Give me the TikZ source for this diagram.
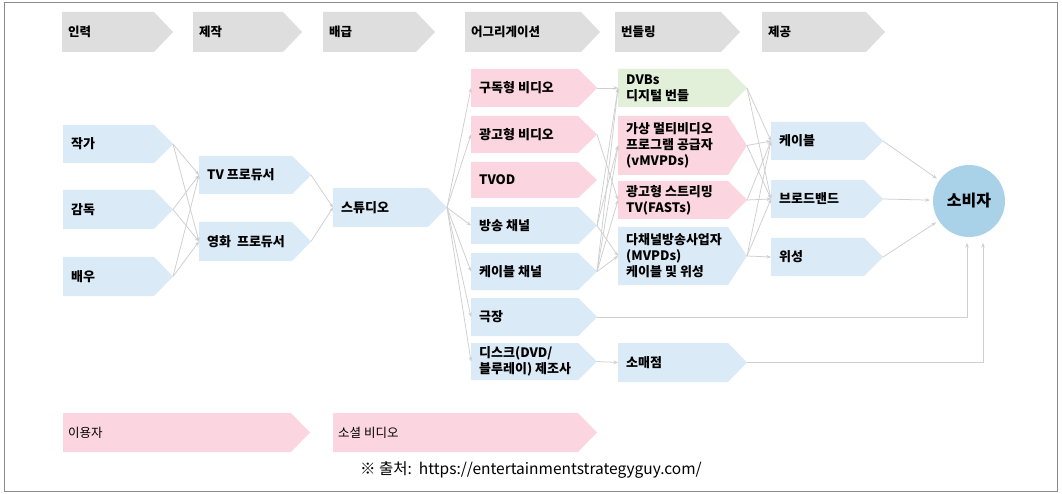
\documentclass[tikz,border=0pt]{standalone}
\usepackage{fontspec}
\setmainfont{Noto Sans CJK KR}
\usetikzlibrary{arrows.meta}
\definecolor{hdr}{HTML}{DEDEDE}
\definecolor{bl}{HTML}{DAEAF6}
\definecolor{pk}{HTML}{FBD5E0}
\definecolor{gr}{HTML}{E2EFD9}
\definecolor{cons}{HTML}{A9D1E8}
\definecolor{ag}{HTML}{CFCFCF}
\definecolor{fr}{HTML}{8A8A8A}
\newcommand\chev[8]{%
  \fill[#6] (#2,#3) -- ({#4-19},#3) -- (#4,{(#3+#5)/2}) -- ({#4-19},#5) -- (#2,#5) -- cycle;
  \node[lbl, anchor=west] (#1) at ({#2+#8},{(#3+#5)/2}) {#7};
  \coordinate (#1-o) at (#4,{(#3+#5)/2});
  \coordinate (#1-i) at (#2,{(#3+#5)/2});
}
\begin{document}
\begin{tikzpicture}[x=1pt,y=-1pt,
  lbl/.style={inner sep=0pt, align=left, font=\fontsize{13}{16}\selectfont\bfseries},
  conn/.style={draw=ag, line width=0.75pt, -{Stealth[length=4.5pt,width=3.5pt]}}]
\useasboundingbox (0,0) rectangle (1062,494);
\fill[white] (0,0) rectangle (1062,494);
\draw[fr, line width=1pt] (4,3) rectangle (1057,491);
% header
\begin{scope}[lbl/.style={inner sep=0pt, font=\fontsize{12.5}{14}\selectfont\bfseries}]
\chev{h1}{62}{12}{173}{52}{hdr}{인력}{6}
\chev{h2}{193}{12}{302}{52}{hdr}{제작}{6}
\chev{h3}{323}{12}{435}{52}{hdr}{배급}{6}
\chev{h4}{465}{12}{600}{52}{hdr}{어그리게이션}{6}
\chev{h5}{615}{12}{740}{52}{hdr}{번들링}{6}
\chev{h6}{762}{12}{885}{52}{hdr}{제공}{6}
\end{scope}
% talent
\chev{wr}{63}{125}{173}{163}{bl}{작가}{8}
\chev{di}{63}{190}{173}{229}{bl}{감독}{8}
\chev{ac}{63}{257}{173}{296}{bl}{배우}{8}
% producers
\chev{tv}{199}{156}{311}{194}{bl}{TV 프로듀서}{8}
\chev{fm}{199}{222}{311}{261}{bl}{영화\ \ 프로듀서}{8}
% studio
\chev{st}{333}{188}{447}{227}{bl}{스튜디오}{8}
% aggregation
\chev{sub}{471}{69}{597}{107}{pk}{구독형 비디오}{8}
\chev{adv}{471}{116}{597}{153}{pk}{광고형 비디오}{8}
\chev{tvod}{471}{162}{597}{198}{pk}{TVOD}{8}
\chev{bc}{471}{207}{597}{244}{bl}{방송 채널}{8}
\chev{cc}{471}{253}{597}{290}{bl}{케이블 채널}{8}
\chev{th}{471}{298}{597}{336}{bl}{극장}{8}
\chev{disc}{471}{343}{597}{380}{bl}{디스크(DVD/\\블루레이) 제조사}{8}
% bundling
\chev{dvb}{618}{69}{747}{107}{gr}{DVBs\\디지털 번들}{8}
\chev{vm}{618}{116}{747}{175}{pk}{가상 멀티비디오\\프로그램 공급자\\(vMVPDs)}{8}
\chev{fast}{618}{181}{747}{219}{pk}{광고형 스트리밍\\TV(FASTs)}{8}
\chev{mvpd}{618}{227}{747}{285}{bl}{다채널방송사업자\\(MVPDs)\\케이블 및 위성}{8}
\chev{ret}{618}{343}{747}{382}{bl}{소매점}{8}
% delivery
\chev{cab}{771}{122}{883}{160}{bl}{케이블}{8}
\chev{bb}{771}{180}{883}{218}{bl}{브로드밴드}{8}
\chev{sat}{771}{238}{883}{276}{bl}{위성}{8}
% consumer
\node[circle, fill=cons, minimum size=72pt, inner sep=0pt, font=\fontsize{16}{18}\selectfont\bfseries] (con) at (969,201) {소비자};
% bottom row
\begin{scope}[lbl/.style={inner sep=0pt, font=\fontsize{12.5}{14}\selectfont}]
\chev{usr}{63}{413}{310}{452}{pk}{이용자}{5}
\chev{soc}{333}{413}{597}{452}{pk}{소셜 비디오}{5}
\end{scope}
\node[inner sep=0pt, font=\fontsize{15.5}{17}\selectfont] (src) at (531,470) {※ 출처:\ \ https://entertainmentstrategyguy.com/};
% connectors
\foreach \s in {wr,di,ac}{\foreach \t in {tv,fm}{\draw[conn] (\s-o) -- (\t-i);}}
\draw[conn] (tv-o) -- (st-i);
\draw[conn] (fm-o) -- (st-i);
\foreach \t in {sub,adv,bc,cc,th,disc}{\draw[conn] (st-o) -- (\t-i);}
\draw[conn] (sub-o) -- (dvb-i);
\draw[conn] (adv-o) -- (fast-i);
\draw[conn] (bc-o) -- (dvb-i);
\draw[conn] (bc-o) -- (vm-i);
\draw[conn] (bc-o) -- (mvpd-i);
\draw[conn] (cc-o) -- (dvb-i);
\draw[conn] (cc-o) -- (vm-i);
\draw[conn] (cc-o) -- (fast-i);
\draw[conn] (cc-o) -- (mvpd-i);
\draw[conn] (disc-o) -- (ret-i);
\foreach \s in {dvb,vm,fast,mvpd}{\foreach \t in {cab,bb}{\draw[conn] (\s-o) -- (\t-i);}}
\draw[conn] (mvpd-o) -- (sat-i);
\draw[conn, shorten >=3pt] (cab-o) -- (con);
\draw[conn, shorten >=3pt] (bb-o) -- (con);
\draw[conn, shorten >=3pt] (sat-o) -- (con);
\coordinate (up1) at (967,243);
\coordinate (up2) at (983,243);
\draw[conn] (th-o) -| (up1);
\draw[conn] (ret-o) -| (up2);
\end{tikzpicture}
\end{document}
